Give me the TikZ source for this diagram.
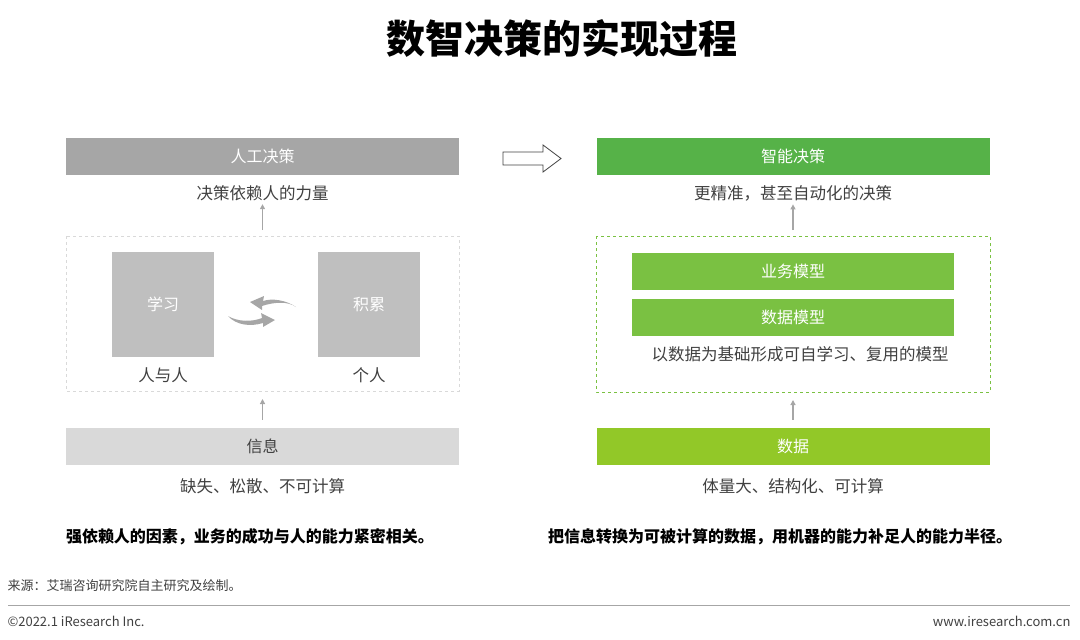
\documentclass[tikz,border=0pt]{standalone}
\usepackage{fontspec}
\setmainfont{Noto Sans CJK SC}
\usepackage{tikz}
\usetikzlibrary{arrows.meta,positioning,calc}
\definecolor{grisOscuro}{RGB}{166,166,166}
\definecolor{grisCaja}{RGB}{191,191,191}
\definecolor{grisClaro}{RGB}{217,217,217}
\definecolor{verdeFuerte}{RGB}{86,178,72}
\definecolor{verdeMedio}{RGB}{122,193,66}
\definecolor{verdeLima}{RGB}{146,200,40}
\definecolor{texto}{RGB}{64,64,64}
\tikzstyle{bar}   =[minimum width=393pt, minimum height=37pt,
                    inner sep=0pt, font=\fontsize{16}{16}\selectfont]
\tikzstyle{square}=[fill=grisCaja, minimum width=102pt,
                    minimum height=105pt, inner sep=0pt, text=white,
                    font=\fontsize{16}{16}\selectfont]
\tikzstyle{caption}=[text=texto, font=\fontsize{16.5}{16.5}\selectfont]
\tikzstyle{up}    =[-{Triangle[length=5pt,width=5pt]}, grisOscuro,
                    line width=1.2pt]
\begin{document}
\begin{tikzpicture}[x=1pt,y=-1pt]
\useasboundingbox (0,0) rectangle (1080,640);

%%%%%%%%%%         Title         %%%%%%%%%%
\node (T) at (562,38) {\fontsize{39}{39}\selectfont\bfseries 数智决策的实现过程};

%%%%%%%%%%       Left column     %%%%%%%%%%
\node (A) [bar,fill=grisOscuro,text=white] at (262.5,156.5) {人工决策};
\node (a) [caption] at (262.5,193) {决策依赖人的力量};
\draw [dashed,grisClaro,line width=0.8pt] (66,236) rectangle (459,391);
\coordinate (atop) at (262.5,236);
\node (L1) [square] at (163,304.5) {学习};
\node (L2) [square] at (369,304.5) {积累};
\node (l1) [caption] at (163,375) {人与人};
\node (l2) [caption] at (369,375) {个人};
\coordinate (ab) at (262.5,391);
\node (B) [bar,fill=grisClaro,text=texto] at (262.5,446.5) {信息};
\node (b) [caption] at (262.5,486) {缺失、松散、不可计算};
\draw [up] ($(atop)+(0,-6)$) -- (a);
\draw [up] ($(B.north)+(0,-8)$) -- ($(ab)+(0,8)$);
% swap arrows
\fill [grisOscuro] (228,316) .. controls (238,322) and (252,322) .. (262,318)
   -- (261,313) -- (275,320) -- (263,327) -- (263,323)
   .. controls (250,327) and (236,325) .. (228,316) -- cycle;
\fill [grisOscuro] (296,307) .. controls (286,300) and (272,298) .. (263,301)
   -- (264,296) -- (250,302) -- (262,310) -- (262,306)
   .. controls (274,302) and (288,301) .. (296,307) -- cycle;

\node (c) [font=\fontsize{16}{16}\selectfont\bfseries] at (250,537)
   {强依赖人的因素，业务的成功与人的能力紧密相关。};

%%%%%%%%%%     Hollow arrow      %%%%%%%%%%
\draw [texto,line width=0.8pt] (503,152) -- (543,152) -- (543,145) -- (561,158.5)
   -- (543,172) -- (543,165) -- (503,165) -- cycle;

%%%%%%%%%%      Right column     %%%%%%%%%%
\node (C) [bar,fill=verdeFuerte,text=white] at (793,156.5) {智能决策};
\node (d) [caption] at (793,193) {更精准，甚至自动化的决策};
\draw [dashed,verdeMedio,line width=0.8pt] (596,236) rectangle (990,392);
\coordinate (ctop) at (793,236);
\node (M1) [bar,minimum width=322pt,fill=verdeMedio,text=white] at (793,271) {业务模型};
\node (M2) [bar,minimum width=322pt,fill=verdeMedio,text=white] at (793,317) {数据模型};
\node (m) [caption] at (800,354) {以数据为基础形成可自学习、复用的模型};
\coordinate (cb) at (793,392);
\node (D) [bar,fill=verdeLima,text=white] at (793,446.5) {数据};
\node (e) [caption] at (793,486) {体量大、结构化、可计算};
\draw [up] ($(ctop)+(0,-6)$) -- (d);
\draw [up] ($(D.north)+(0,-8)$) -- ($(cb)+(0,8)$);

\node (f) [font=\fontsize{16}{16}\selectfont\bfseries] at (780,537)
   {把信息转换为可被计算的数据，用机器的能力补足人的能力半径。};

%%%%%%%%%%        Footer         %%%%%%%%%%
\node (S) [anchor=west,text=texto,font=\fontsize{13}{13}\selectfont] at (4,586)
   {来源：艾瑞咨询研究院自主研究及绘制。};
\draw [grisOscuro,line width=0.8pt] (8,605) -- (1070,605);
\node (F1) [anchor=west,text=texto,font=\fontsize{13}{13}\selectfont] at (4,621)
   {©2022.1 iResearch Inc.};
\node (F2) [anchor=east,text=texto,font=\fontsize{13}{13}\selectfont] at (1074,621)
   {www.iresearch.com.cn};
\end{tikzpicture}
\end{document}
